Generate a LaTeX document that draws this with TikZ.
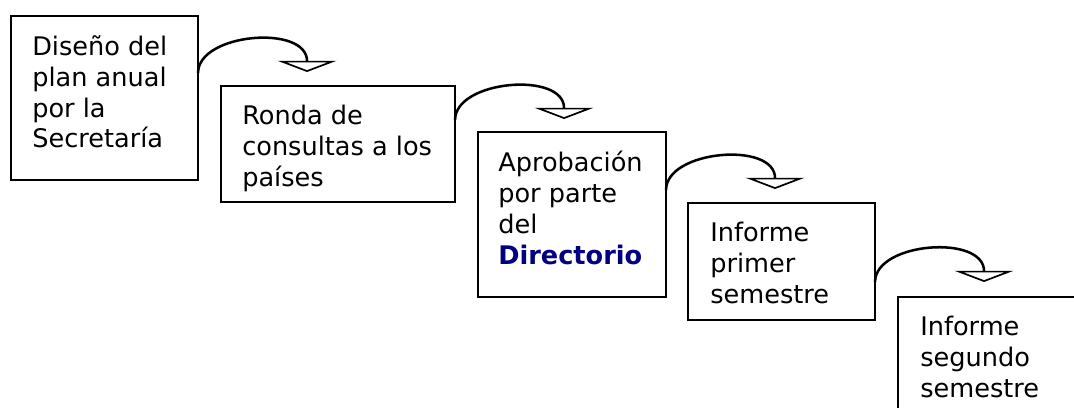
\documentclass[tikz,border=0pt]{standalone}
\usepackage{fontspec}
\setmainfont{DejaVu Sans}
\usepackage{xcolor}
\usetikzlibrary{arrows.meta,calc}
\definecolor{dirblue}{RGB}{0,0,128}
\tikzset{
	stepbox/.style={draw, line width=1.4pt, anchor=north west, inner sep=0pt, outer sep=0pt},
	boxtext/.style={anchor=north west, inner sep=0pt, align=left,
			font=\fontsize{18.2}{22}\selectfont, execute at begin node=\strut},
	flowarrow/.style={line width=1.8pt,
			-{Triangle[open, width=42pt, length=8pt, line width=1.2pt, fill=white]}}
}
\begin{document}
\begin{tikzpicture}[x=0.025cm, y=-0.025cm]
		\clip (0,0) rectangle (1074,408);

		% Boxes of the process
		\node[stepbox, minimum width=4.675cm, minimum height=4.1cm] (b1) at (11,16) {};
		\node[stepbox, minimum width=5.85cm, minimum height=2.9cm] (b2) at (221,86) {};
		\node[stepbox, minimum width=4.7cm, minimum height=4.125cm] (b3) at (478,132) {};
		\node[stepbox, minimum width=4.675cm, minimum height=2.925cm] (b4) at (688,203) {};
		\node[stepbox, minimum width=5.3cm, minimum height=3.6cm] (b5) at (898,297) {};

		% Texts
		\node[boxtext] (t1) at ($(b1.north west)+(21,19)$) {Diseño del\\plan anual\\por la\\Secretaría};
		\node[boxtext] (t2) at ($(b2.north west)+(21,19)$) {Ronda de\\consultas a los\\países};
		\node[boxtext] (t3) at ($(b3.north west)+(20,19)$) {Aprobación\\por parte\\del\\\textbf{\color{dirblue}Directorio}};
		\node[boxtext] (t4) at ($(b4.north west)+(22,19)$) {Informe\\primer\\semestre};
		\node[boxtext] (t5) at ($(b5.north west)+(22,19)$) {Informe\\segundo\\semestre};

		% Curved arrows
		\coordinate (s1) at ($(b1.north east)+(0,57)$);
		\coordinate (e1) at ($(s1)+(109,-1)$);
		\coordinate (s2) at ($(b2.north east)+(0,34)$);
		\coordinate (e2) at ($(s2)+(109,-1)$);
		\coordinate (s3) at ($(b3.north east)+(0,58)$);
		\coordinate (e3) at ($(s3)+(109,-1)$);
		\coordinate (s4) at ($(b4.north east)+(0,79)$);
		\coordinate (e4) at ($(s4)+(109,0)$);
		\draw[flowarrow] (s1) .. controls +(0,-40) and +(0,-48) .. (e1);
		\draw[flowarrow] (s2) .. controls +(0,-40) and +(0,-48) .. (e2);
		\draw[flowarrow] (s3) .. controls +(0,-40) and +(0,-48) .. (e3);
		\draw[flowarrow] (s4) .. controls +(0,-40) and +(0,-48) .. (e4);
	\end{tikzpicture}
\end{document}
